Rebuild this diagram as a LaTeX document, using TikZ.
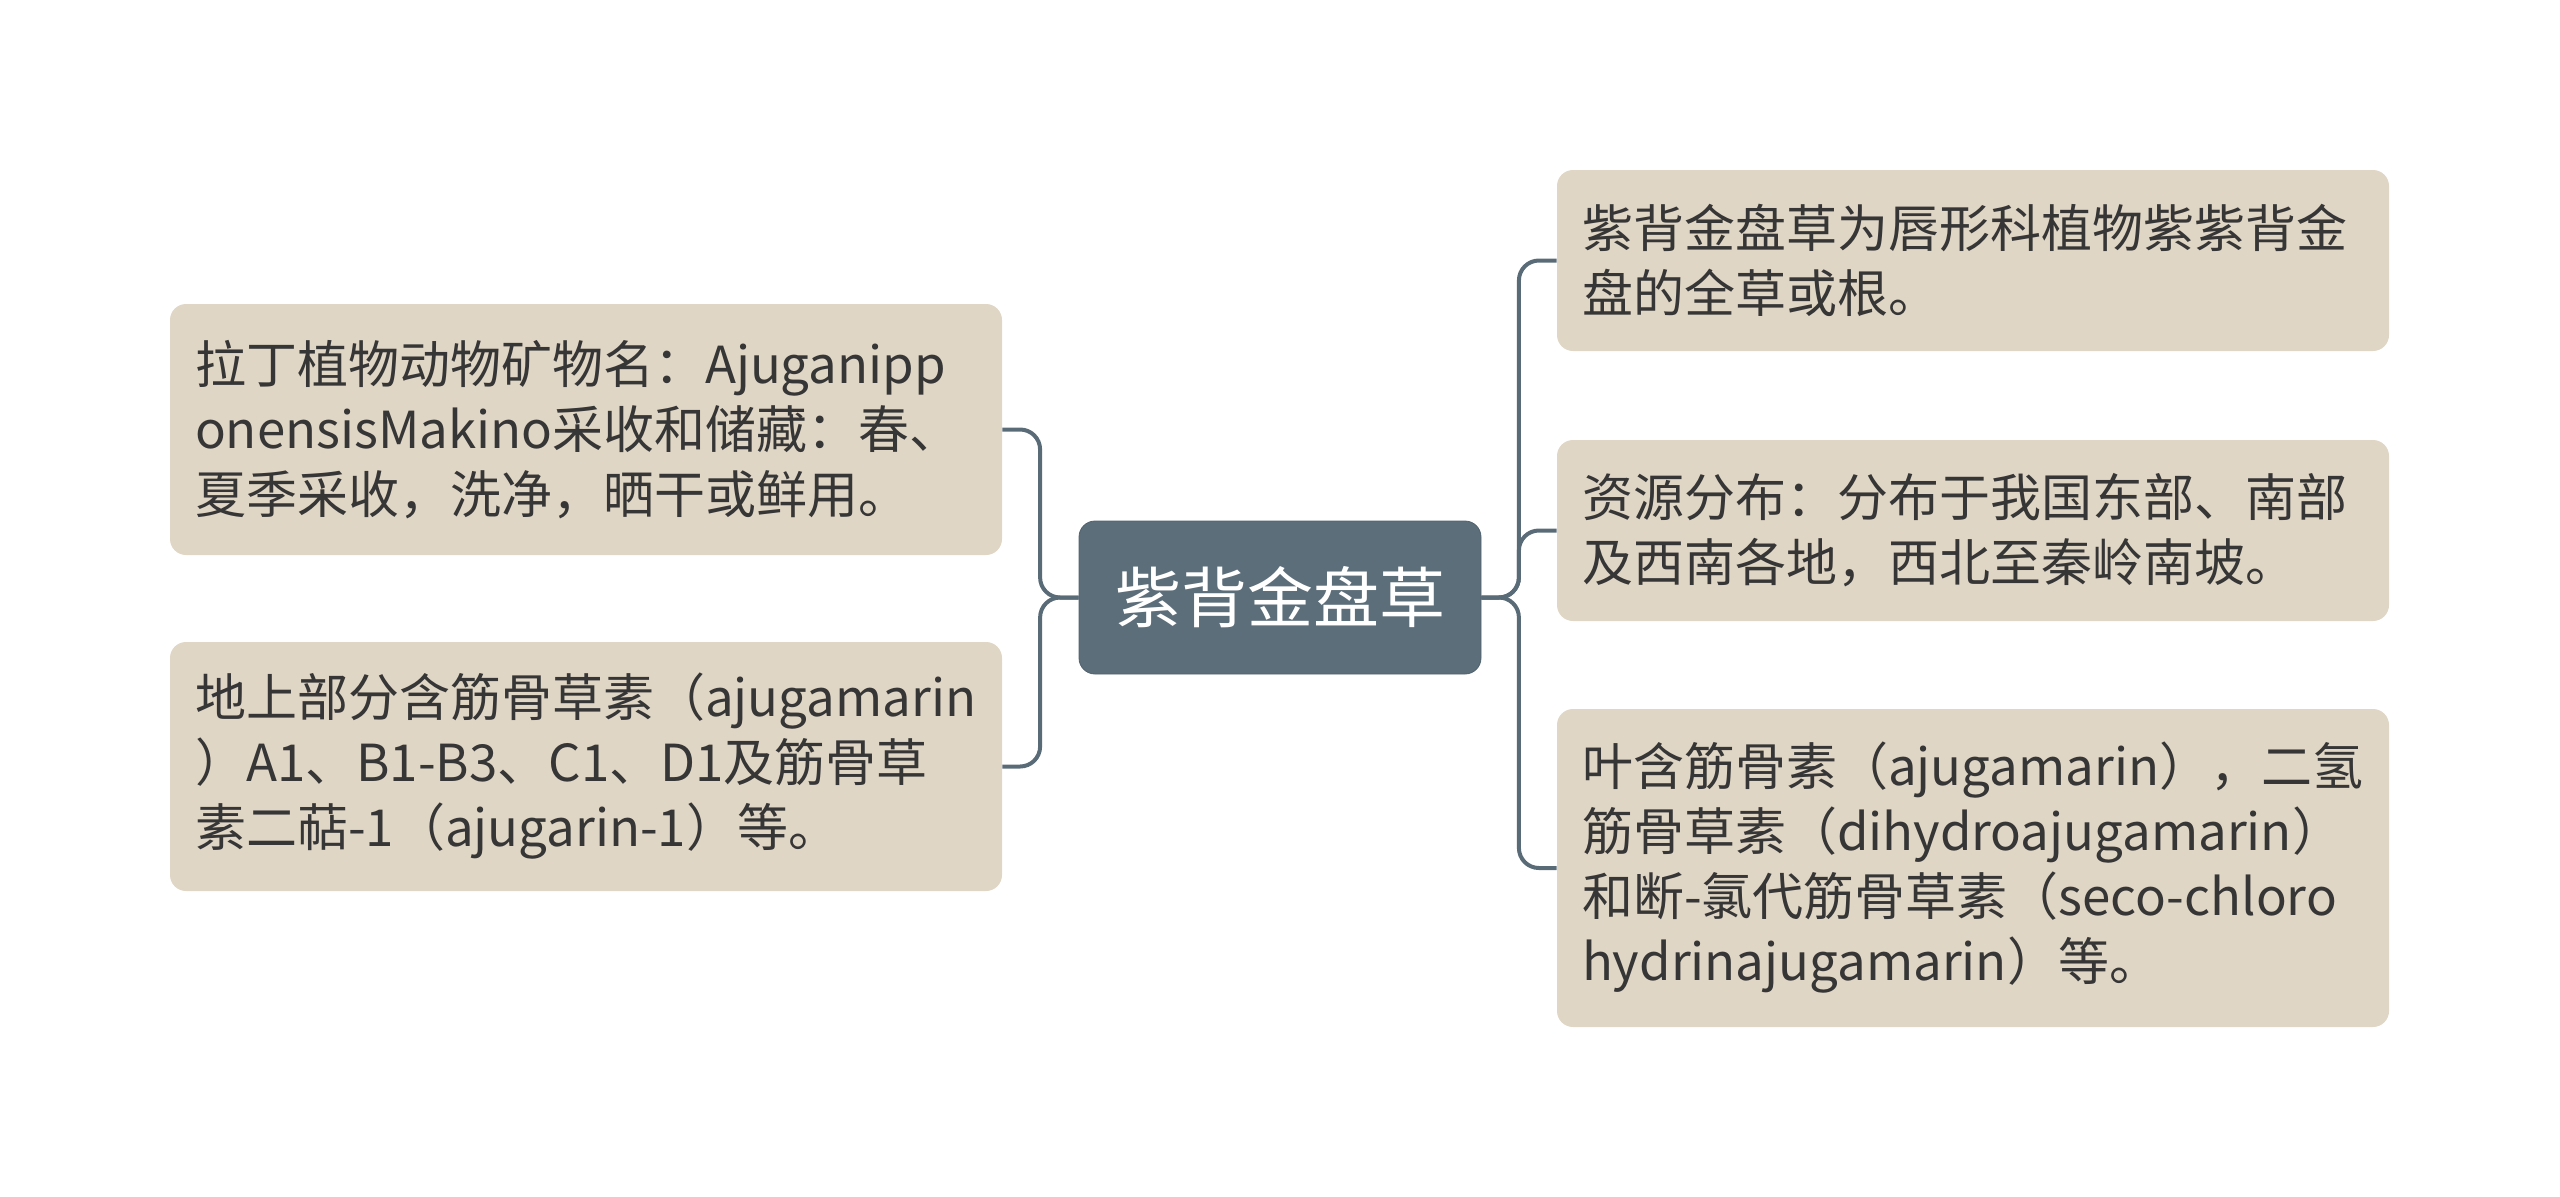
\documentclass[tikz,border=0pt]{standalone}
\usepackage{fontspec}
\setmainfont{Noto Sans CJK SC}
\usepackage{xcolor}
\usetikzlibrary{positioning}
\definecolor{leaffill}{HTML}{E0D6C5}
\definecolor{topicfill}{HTML}{5C6E7A}
\definecolor{topicline}{HTML}{51626E}
\definecolor{linkcol}{HTML}{5A6B78}
\definecolor{txt}{HTML}{363636}
\begin{document}
\begin{tikzpicture}[
		x=0.5pt, y=-0.5pt,
		leaf/.style = {rectangle, rounded corners=8pt, fill=leaffill, text=txt, align=left,
			text width=391pt, inner xsep=12.25pt, inner ysep=0pt, minimum width=416pt,
			font=\fontsize{25.5}{32.5}\selectfont},
		topic/.style = {rectangle, rounded corners=8pt, fill=topicfill, draw=topicline, thin, text=white,
			minimum width=201pt, minimum height=76.5pt, font=\fontsize{33}{40}\selectfont},
		link/.style = {draw=linkcol, line width=2pt, rounded corners=10pt}
		]
		\useasboundingbox (0,0) rectangle (2560,1196);
		
		%Nodes
		\node[topic]	(root)	at	(1280, 597.5)	{紫背金盘草};
		\node[leaf, minimum height=125.5pt]	(l1)	at	(586, 429.5)
			{拉丁植物动物矿物名：Ajuganipp\\onensisMakino采收和储藏：春、\\夏季采收，洗净，晒干或鲜用。};
		\node[leaf, minimum height=124.5pt]	(l2)	at	(586, 766.5)
			{地上部分含筋骨草素（ajugamarin\\）A1、B1-B3、C1、D1及筋骨草\\素二萜-1（ajugarin-1）等。};
		\node[leaf, minimum height=90.5pt]	(r1)	at	(1973, 260.5)
			{紫背金盘草为唇形科植物紫紫背金\\盘的全草或根。};
		\node[leaf, minimum height=90.5pt]	(r2)	at	(1973, 530.5)
			{资源分布：分布于我国东部、南部\\及西南各地，西北至秦岭南坡。};
		\node[leaf, minimum height=159pt]	(r3)	at	(1973, 868)
			{叶含筋骨素（ajugamarin），二氢\\筋骨草素（dihydroajugamarin）\\和断-氯代筋骨草素（seco-chloro\\hydrinajugamarin）等。};
		
		%Lines
		\draw[link]	(root.west)	--	++(-38.5,0)	|-	(l1.east);
		\draw[link]	(root.west)	--	++(-38.5,0)	|-	(l2.east);
		\draw[link]	(root.east)	--	++(37.5,0)	|-	(r1.west);
		\draw[link]	(root.east)	--	++(37.5,0)	|-	(r2.west);
		\draw[link]	(root.east)	--	++(37.5,0)	|-	(r3.west);
	\end{tikzpicture}
\end{document}
